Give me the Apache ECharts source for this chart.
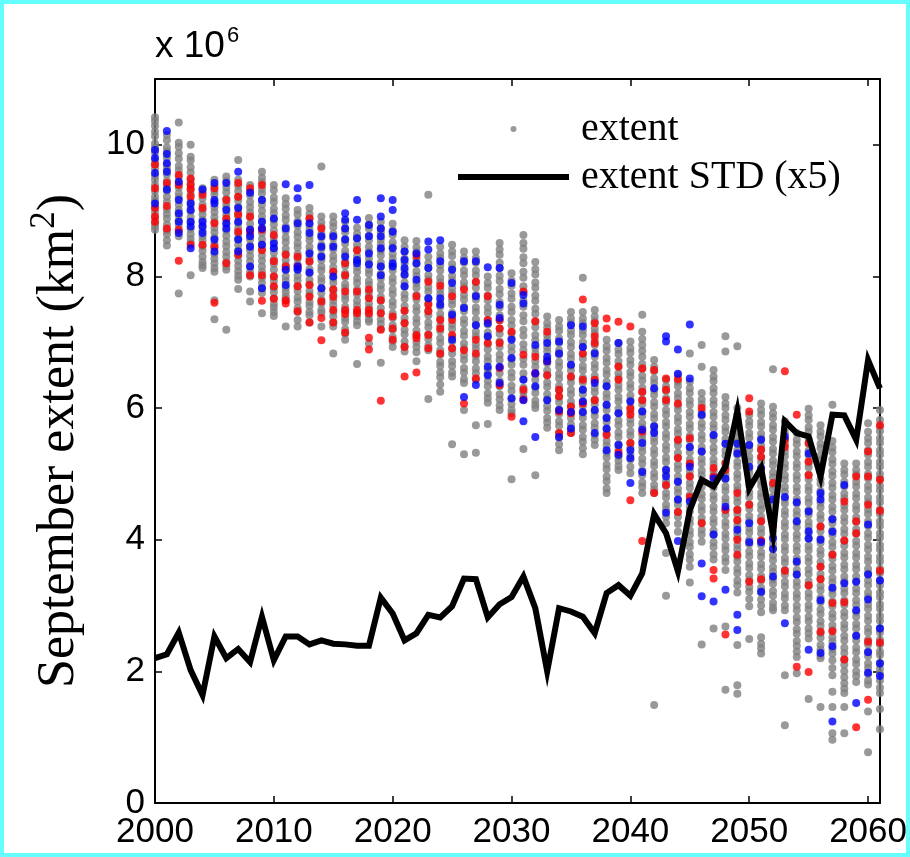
<!DOCTYPE html>
<html>
<head>
<meta charset="utf-8">
<script src="https://cdn.jsdelivr.net/npm/echarts/dist/echarts.min.js"></script>
<style>
  html, body { margin: 0; padding: 0; background: #fff; }
  #wrap { position: relative; width: 910px; height: 857px; }
  #chart { position: absolute; left: 0; top: 0; width: 910px; height: 857px; }
  #frame { position: absolute; left: 0; top: 0; width: 910px; height: 857px;
           box-sizing: border-box; border: 4px solid #66ffff; pointer-events: none; }
</style>
</head>
<body>
<div id="wrap"><div id="chart"></div><div id="frame"></div></div>
<script>
// Model years (one column of ensemble members per year)
const years = [];
for (let y = 2000; y <= 2061; y++) years.push(y);

// September sea-ice extent of the ensemble members, 10^6 km^2 (grey members)
const greyExtent = [
  [10.42,10.36,10.29,10.2,10.13,10.02,9.96,9.88,9.77,9.7,9.64,9.53,9.47,9.39,9.3,9.21,9.15,9.06,8.98,8.9,8.81,8.76,8.71],
  [10.15,10.07,9.96,9.9,9.8,9.69,9.63,9.55,9.45,9.37,9.3,9.21,9.13,9.02,8.95,8.88,8.79,8.7,8.64,8.55,8.47],
  [10.34,10.03,9.97,9.87,9.79,9.68,9.61,9.51,9.42,9.35,9.26,9.2,9.09,9.01,8.93,8.85,8.78,8.69,8.61,7.74],
  [10.0,9.82,9.76,9.66,9.58,9.47,9.41,9.33,9.25,9.14,9.07,8.99,8.9,8.82,8.72,8.64,8.57,8.51,8.02],
  [9.34,9.28,9.19,9.09,9.01,8.94,8.86,8.77,8.7,8.61,8.55,8.46,8.39,8.3,8.22,8.17,8.13],
  [9.47,9.38,9.3,9.24,9.14,9.05,8.98,8.9,8.83,8.74,8.67,8.59,8.5,8.44,8.34,8.27,8.2,8.13,8.07,7.64,7.35],
  [9.52,9.45,9.35,9.28,9.18,9.1,9.04,8.94,8.86,8.79,8.7,8.62,8.53,8.46,8.37,8.3,8.22,8.15,8.1,7.19],
  [9.77,9.47,9.38,9.3,9.21,9.15,9.06,8.97,8.91,8.81,8.73,8.65,8.57,8.48,8.4,8.32,8.24,8.16,8.08,8.01,7.95,7.81],
  [9.39,9.3,9.23,9.13,9.05,8.97,8.9,8.8,8.72,8.64,8.56,8.47,8.4,8.31,8.23,8.15,8.07,8.0,7.77,7.62],
  [9.59,9.5,9.43,9.33,9.26,9.16,9.09,9.0,8.91,8.84,8.74,8.66,8.57,8.49,8.42,8.32,8.24,8.15,8.07,7.98,7.9,7.82,7.75,7.44],
  [9.39,9.31,9.2,9.13,9.03,8.96,8.86,8.79,8.7,8.6,8.53,8.43,8.36,8.26,8.19,8.1,8.0,7.93,7.83,7.76,7.67,7.58,7.53,7.46,7.4],
  [9.19,9.1,9.03,8.93,8.86,8.76,8.69,8.59,8.52,8.42,8.35,8.25,8.17,8.1,8.0,7.93,7.83,7.76,7.69,7.64,7.24],
  [9.01,8.94,8.84,8.77,8.67,8.6,8.51,8.44,8.34,8.27,8.18,8.11,8.01,7.94,7.85,7.78,7.68,7.62,7.52,7.46,7.34,7.24],
  [9.04,8.95,8.88,8.78,8.71,8.61,8.55,8.45,8.38,8.28,8.22,8.11,8.05,7.95,7.88,7.78,7.72,7.61,7.55,7.46,7.41,7.3],
  [9.67,8.91,8.82,8.75,8.65,8.59,8.48,8.42,8.32,8.25,8.15,8.09,7.98,7.92,7.82,7.75,7.65,7.59,7.49,7.45,7.24],
  [8.91,8.82,8.75,8.65,8.58,8.48,8.41,8.31,8.24,8.14,8.07,7.97,7.9,7.8,7.73,7.63,7.56,7.46,7.39,7.3,7.24,6.83],
  [8.83,8.73,8.67,8.56,8.5,8.39,8.33,8.22,8.16,8.05,7.99,7.88,7.82,7.71,7.65,7.54,7.48,7.37,7.31,7.2,7.13,7.04],
  [8.74,8.65,8.58,8.48,8.41,8.31,8.24,8.14,8.07,7.97,7.9,7.8,7.73,7.63,7.56,7.46,7.39,7.32,7.26,6.67],
  [8.89,8.79,8.73,8.62,8.55,8.45,8.38,8.28,8.21,8.1,8.04,7.93,7.87,7.76,7.69,7.59,7.52,7.42,7.35,7.31,6.98],
  [8.83,8.73,8.67,8.56,8.49,8.39,8.32,8.21,8.15,8.04,7.97,7.87,7.8,7.69,7.63,7.52,7.45,7.35,7.28,7.2,6.69],
  [8.8,8.7,8.63,8.52,8.45,8.34,8.27,8.16,8.09,7.98,7.91,7.8,7.73,7.62,7.55,7.44,7.37,7.26,7.19,7.08,7.01,6.93],
  [8.55,8.45,8.38,8.27,8.2,8.09,8.02,7.91,7.84,7.73,7.66,7.55,7.48,7.37,7.3,7.19,7.12,7.01,6.94,6.86],
  [8.54,8.44,8.37,8.26,8.19,8.08,8.01,7.9,7.83,7.72,7.65,7.54,7.47,7.36,7.29,7.18,7.11,7.0,6.93,6.85,6.71],
  [9.24,8.3,8.2,8.13,8.02,7.95,7.84,7.77,7.66,7.59,7.48,7.41,7.3,7.23,7.12,7.05,6.95,6.88,6.14],
  [8.45,8.35,8.28,8.17,8.09,7.98,7.91,7.8,7.73,7.61,7.54,7.43,7.36,7.25,7.17,7.06,6.99,6.88,6.81,6.7,6.64,6.54,6.47,6.36,6.25],
  [8.48,8.38,8.31,8.19,8.12,8.01,7.94,7.82,7.75,7.64,7.57,7.45,7.38,7.27,7.2,7.08,7.01,6.9,6.83,6.71,6.64,6.54,6.48,5.45],
  [8.38,8.28,8.21,8.09,8.02,7.91,7.84,7.72,7.65,7.54,7.47,7.35,7.28,7.17,7.1,6.98,6.91,6.8,6.73,6.61,6.54,6.44,6.38,5.97,5.3],
  [8.38,8.28,8.21,8.09,8.02,7.91,7.83,7.72,7.65,7.53,7.46,7.35,7.27,7.16,7.09,6.97,6.9,6.79,6.71,6.6,6.53,6.43,5.74,5.32],
  [8.0,7.9,7.83,7.71,7.64,7.53,7.45,7.34,7.27,7.15,7.08,6.97,6.89,6.78,6.71,6.59,6.52,6.41,6.33,6.22,6.15,6.08,5.76],
  [8.51,8.41,8.33,8.21,8.13,8.01,7.93,7.81,7.73,7.61,7.53,7.41,7.33,7.21,7.13,7.01,6.93,6.81,6.73,6.61,6.53,6.41,6.33,6.21,6.13,6.04,5.97],
  [8.05,7.94,7.86,7.74,7.66,7.54,7.46,7.34,7.26,7.14,7.06,6.94,6.86,6.74,6.66,6.54,6.46,6.34,6.26,6.14,6.06,5.97,5.92,4.92],
  [8.63,8.51,8.42,8.29,8.2,8.07,7.98,7.85,7.76,7.63,7.54,7.41,7.32,7.19,7.1,6.97,6.88,6.75,6.66,6.53,6.44,6.31,6.24,6.17,5.38],
  [8.22,8.11,8.03,7.91,7.83,7.71,7.63,7.51,7.43,7.31,7.23,7.11,7.03,6.91,6.83,6.71,6.63,6.51,6.43,6.31,6.23,6.11,6.05,6.0,4.98],
  [7.39,7.29,7.22,7.11,7.04,6.93,6.86,6.75,6.68,6.57,6.5,6.39,6.32,6.21,6.14,6.03,5.96,5.85,5.78,5.7],
  [7.34,7.24,7.17,7.06,6.99,6.88,6.81,6.7,6.63,6.52,6.45,6.34,6.27,6.16,6.09,5.98,5.91,5.8,5.73,5.62,5.55,5.45,5.36],
  [7.46,7.36,7.29,7.18,7.11,7.0,6.93,6.82,6.75,6.64,6.57,6.46,6.39,6.28,6.21,6.1,6.03,5.92,5.85,5.75,5.68,5.62],
  [7.98,7.46,7.36,7.29,7.18,7.11,7.0,6.93,6.82,6.75,6.64,6.57,6.46,6.39,6.28,6.21,6.1,6.03,5.92,5.85,5.74,5.67,5.56,5.49,5.39,5.3],
  [7.49,7.39,7.32,7.21,7.14,7.03,6.96,6.85,6.78,6.67,6.6,6.49,6.42,6.31,6.24,6.13,6.06,5.95,5.88,5.77,5.7,5.59,5.52,5.44],
  [7.04,6.94,6.87,6.76,6.69,6.58,6.51,6.4,6.33,6.22,6.15,6.04,5.97,5.86,5.79,5.68,5.61,5.5,5.43,5.32,5.25,5.14,5.07,4.96,4.89,4.78,4.71],
  [6.99,6.89,6.82,6.71,6.64,6.53,6.46,6.35,6.28,6.17,6.1,5.99,5.92,5.81,5.74,5.63,5.56,5.45,5.38,5.27,5.2,5.12,5.06],
  [7.01,6.91,6.84,6.73,6.66,6.55,6.48,6.37,6.3,6.19,6.12,6.01,5.94,5.83,5.76,5.65,5.58,5.47,5.4,5.29,5.22,5.11,5.01],
  [7.42,7.16,7.05,6.96,6.87,6.78,6.67,6.6,6.49,6.42,6.31,6.24,6.13,6.06,5.95,5.88,5.77,5.7,5.59,5.52,5.41,5.34,5.23,5.16,5.05,4.98,4.87,4.8,4.71],
  [6.73,6.63,6.56,6.45,6.38,6.27,6.2,6.09,6.02,5.91,5.84,5.73,5.66,5.55,5.48,5.37,5.3,5.19,5.12,5.01,4.94,4.83,4.76,4.71,1.49],
  [6.43,6.33,6.26,6.15,6.08,5.97,5.9,5.79,5.72,5.61,5.54,5.43,5.36,5.25,5.18,5.07,5.0,4.89,4.82,4.71,4.64,4.53,4.46,4.35,4.25,3.8,3.15],
  [6.5,6.4,6.33,6.22,6.15,6.04,5.97,5.86,5.79,5.68,5.61,5.5,5.43,5.32,5.25,5.14,5.07,4.96,4.89,4.78,4.71,4.6,4.53,4.42,4.35,4.24,4.12,3.59],
  [6.83,6.4,6.3,6.23,6.12,6.05,5.94,5.87,5.76,5.69,5.58,5.51,5.4,5.33,5.22,5.15,5.04,4.97,4.86,4.79,4.68,4.61,4.5,4.43,4.32,4.25,4.14,4.07,3.96,3.89,3.78,3.7,3.59,3.35],
  [6.96,6.63,6.23,6.13,6.06,5.95,5.88,5.77,5.7,5.59,5.52,5.41,5.34,5.23,5.16,5.05,4.98,4.87,4.8,4.69,4.62,4.51,4.44,4.33,4.26,4.15,4.08,3.97,2.41],
  [6.58,6.48,6.41,6.3,6.23,6.12,6.05,5.94,5.87,5.76,5.69,5.58,5.51,5.4,5.33,5.22,5.15,5.04,4.97,4.86,4.79,4.68,4.61,4.5,4.43,4.32,4.25,4.14,4.07,3.96,3.89,3.78,3.7,2.65],
  [7.09,6.86,6.17,6.07,6.0,5.89,5.82,5.71,5.64,5.53,5.46,5.35,5.28,5.17,5.1,4.99,4.92,4.81,4.74,4.63,4.56,4.45,4.38,4.27,4.2,4.09,4.02,3.91,3.84,3.73,3.66,3.54,2.68,1.72],
  [6.94,6.0,5.9,5.83,5.72,5.65,5.54,5.47,5.36,5.29,5.18,5.11,5.0,4.93,4.82,4.75,4.64,4.57,4.46,4.39,4.28,4.21,4.1,4.03,3.92,3.85,3.74,3.67,3.56,3.49,3.38,3.31,3.2,2.4,1.79,1.66],
  [5.9,5.8,5.73,5.62,5.55,5.44,5.37,5.26,5.19,5.08,5.01,4.9,4.83,4.72,4.65,4.54,4.47,4.36,4.29,4.18,4.11,4.0,3.93,3.82,3.75,3.64,3.57,3.46,3.39,3.28,3.21,3.1,2.99,2.49],
  [6.07,5.97,5.9,5.79,5.72,5.61,5.54,5.43,5.36,5.25,5.18,5.07,5.0,4.89,4.82,4.71,4.64,4.53,4.46,4.35,4.28,4.17,4.1,3.99,3.92,3.81,3.74,3.63,3.56,3.45,3.38,3.27,3.2,3.09,3.0,2.9,2.52,2.42,2.35,2.27],
  [6.59,6.02,5.92,5.85,5.74,5.67,5.56,5.49,5.38,5.31,5.2,5.13,5.02,4.95,4.84,4.77,4.66,4.59,4.48,4.41,4.3,4.23,4.12,4.05,3.94,3.87,3.76,3.69,3.58,3.51,3.4,3.33,3.22,3.15,3.04,2.97,2.93],
  [5.8,5.7,5.63,5.52,5.45,5.34,5.27,5.16,5.09,4.98,4.91,4.8,4.73,4.62,4.55,4.44,4.37,4.26,4.19,4.08,4.01,3.9,3.83,3.72,3.65,3.54,3.47,3.36,3.29,3.18,3.11,3.0,2.93,1.94,1.18],
  [5.62,5.52,5.45,5.34,5.27,5.16,5.09,4.98,4.91,4.8,4.73,4.62,4.55,4.44,4.37,4.26,4.19,4.08,4.01,3.9,3.83,3.72,3.65,3.54,3.47,3.36,3.29,3.18,3.11,3.0,2.93,2.82,2.75,2.64,2.57,2.46,2.39,2.3,2.22,1.97],
  [5.99,5.89,5.82,5.71,5.64,5.53,5.46,5.35,5.28,5.17,5.1,4.99,4.92,4.81,4.74,4.63,4.56,4.45,4.38,4.27,4.2,4.09,4.02,3.91,3.84,3.73,3.66,3.55,3.48,3.37,3.3,3.19,3.12,3.01,2.94,2.83,2.76,2.65,2.58,2.5,1.58],
  [5.74,5.64,5.57,5.46,5.39,5.28,5.21,5.1,5.03,4.92,4.85,4.74,4.67,4.56,4.49,4.38,4.31,4.2,4.13,4.02,3.95,3.84,3.77,3.66,3.59,3.48,3.41,3.3,3.23,3.12,3.05,2.94,2.87,2.76,2.69,2.58,2.51,2.4,2.33,2.24,2.2,1.46],
  [6.05,5.5,5.4,5.33,5.22,5.15,5.04,4.97,4.86,4.79,4.68,4.61,4.5,4.43,4.32,4.25,4.14,4.07,3.96,3.89,3.78,3.71,3.6,3.53,3.42,3.35,3.24,3.17,3.06,2.99,2.88,2.81,2.7,2.63,2.52,2.45,2.34,2.27,2.17,2.05,1.94,1.69,1.46,1.06,0.96],
  [5.16,5.06,4.99,4.88,4.81,4.7,4.63,4.52,4.45,4.34,4.27,4.16,4.09,3.98,3.91,3.8,3.73,3.62,3.55,3.44,3.37,3.26,3.19,3.08,3.01,2.9,2.83,2.72,2.65,2.54,2.47,2.36,2.28,2.18,2.1,2.0,1.91,1.82,1.74,1.67,1.46,1.06],
  [5.16,5.06,4.99,4.88,4.81,4.7,4.63,4.52,4.45,4.34,4.27,4.16,4.09,3.98,3.91,3.8,3.73,3.62,3.55,3.44,3.37,3.26,3.19,3.08,3.01,2.9,2.83,2.72,2.65,2.54,2.47,2.36,2.29,2.18,2.11,2.0,1.93,1.84],
  [5.77,5.64,5.54,5.47,5.36,5.29,5.18,5.11,5.0,4.93,4.82,4.75,4.64,4.57,4.46,4.39,4.28,4.21,4.1,4.03,3.92,3.85,3.74,3.67,3.56,3.49,3.38,3.31,3.2,3.13,3.02,2.95,2.84,2.77,2.66,2.59,2.48,2.41,2.3,2.23,2.12,2.05,1.96,1.86,1.8,1.39,0.77],
  [5.97,5.82,5.72,5.65,5.54,5.47,5.36,5.29,5.18,5.11,5.0,4.93,4.82,4.75,4.64,4.57,4.46,4.39,4.28,4.21,4.1,4.03,3.92,3.85,3.74,3.67,3.56,3.49,3.38,3.31,3.2,3.13,3.02,2.95,2.84,2.77,2.66,2.59,2.48,2.41,2.3,2.25,2.13,2.04,1.96,1.86,1.75,1.67,1.43,1.12]
];

// Highlighted members drawn in blue
const blueExtent = [
  [9.92,9.8,9.57,9.11],[10.21,9.86,9.72,9.59,9.32],[9.44,9.16,8.96,8.83,8.66],[9.11,9.01,8.83,8.76,8.43],
  [9.32,8.83,8.76,8.66],[9.42,9.16,9.11,8.56,8.38],[9.42,9.01,8.81,8.73],[9.59,9.04,8.83,8.56,8.38],
  [9.27,8.71,8.61,8.45,8.15],[9.16,8.83,8.73,8.48,7.82],[8.88,8.5,8.43],[9.4,8.73,8.1,7.87],
  [9.34,9.19,8.81,8.15,8.1],[9.39,8.81,8.66,8.35,8.06],[8.61,8.45,8.3,7.82],[8.61,8.45,8.0],
  [8.96,8.86,8.73,8.56,8.3],[9.16,8.86,8.58,8.25,8.2],[8.78,8.61,8.35,8.18],[9.19,8.91,8.73,8.61,8.43,8.15,8.02],
  [9.16,9.01,8.68,8.43,8.2,8.15],[8.38,8.25,8.13,8.03,7.85],[8.35,8.2,7.95],[8.53,8.41,8.13,7.67],
  [8.55,8.23,7.67,7.57],[8.1,7.9,7.42,7.04],[8.23,7.52,6.17],[8.23,7.7,7.26,6.35],
  [8.14,7.29,7.09,6.63,6.5],[8.13,7.57,7.37,6.63,6.38],[7.9,7.04,6.76,6.15],[7.72,7.59,6.43,6.12,5.8],
  [6.96,6.53,6.33,5.56],[6.99,6.78,6.71,6.12],[7.01,6.83,5.97,5.56],[7.26,6.66,5.94,5.69],
  [7.24,6.93,6.28,6.1,5.94],[6.83,6.38,5.97,5.62],[6.33,6.05,5.85,5.69,5.36],[6.99,5.92,5.44,5.29],
  [6.1,5.36,5.24,4.86],[5.95,5.67,5.47,5.03],[6.3,5.72,5.62],[7.09,7.01,5.06,4.96,4.41],
  [6.89,6.52,4.88,4.61,3.98],[7.27,6.45,5.41,5.11,4.58],[5.9,5.34,3.64,3.14],[5.59,4.93,4.08,3.06],
  [5.46,4.93,4.5,3.24],[5.46,5.31,4.15,2.86,2.63],[5.44,5.11,4.25,3.96],[5.52,5.09,3.96,3.21],
  [4.61,4.02,3.86,3.44],[5.57,4.65,2.73],[4.57,4.28,3.67,3.47],[5.31,4.43,4.13,4.02,2.33],
  [4.71,4.61,4.0,3.08,2.28],[4.31,4.12,3.27,2.38,1.24],[4.83,3.34],[3.36,2.93,2.54,1.52],
  [4.23,3.47,3.09,2.29,1.98],[3.38,2.65,2.12,1.93]
];

// Highlighted members drawn in red
const redExtent = [
  [9.7,9.34,9.04,8.91,8.83],[9.42,9.07,8.73],[9.54,9.39,8.71,8.24],[9.49,9.39,9.32,9.21,8.48],
  [9.24,9.04,8.48],[9.34,8.81,8.45,7.6],[9.16,8.88,8.2],[9.42,9.21,8.94,8.68,8.33],
  [9.34,8.91,8.68,8.02],[9.39,8.71,8.4,8.02,7.63],[8.63,8.23,8.0,7.85,7.66],[8.33,8.15,7.64,7.59],
  [8.3,8.15,7.85,7.47],[8.88,8.23,7.87,7.69,7.3],[8.73,7.62,7.37,7.03],[8.07,7.8,7.69,7.49,7.3],
  [8.2,8.02,7.77,7.49,7.43,7.15],[8.4,7.77,7.49,7.44],[7.8,7.67,7.49,7.44,7.07,6.89],[7.64,7.44,7.19,6.11],
  [7.39,7.21,7.04],[7.48,7.29,6.93,6.48],[8.31,7.7,7.11,7.06,6.54],[7.92,7.57,7.47,7.11,6.91],
  [7.86,7.34,7.21,6.83],[7.7,7.34,7.11,6.91],[7.8,6.88,6.07],[7.92,7.04,6.83,6.45],
  [7.7,7.34,6.99],[7.34,7.21,6.99,6.61,6.35],[7.16,5.87],[7.77,6.81,6.28,6.13],
  [7.32,6.78,6.53],[7.16,6.71,6.5],[6.28,6.18,5.95,5.62],[6.48,6.02,5.92,5.62],
  [7.65,6.83,6.43,6.07],[7.29,7.09,6.99,6.43,6.12],[7.36,7.21,5.59],[7.31,6.63,6.43,5.33],
  [7.24,5.99,5.9,5.47,4.6],[6.6,6.25,6.12,5.64,3.98],[6.58,4.71],[6.45,6.28,6.12,4.83],
  [6.44,6.07,5.52,5.24,4.42],[5.54,5.16,4.96,4.65],[6.0,4.25],[5.09,4.96,3.54,3.41],
  [5.16,5.06,4.45,2.56],[4.71,4.45,4.3,4.0,3.77],[6.15,5.95,4.53,3.36],[5.37,5.26,4.28,3.99,3.4],
  [4.86,4.2],[6.56,5.52,5.41,3.53],[5.9,2.07],[5.47,5.19,4.98,3.31,1.99],
  [4.2,3.59,3.4,2.6],[3.77,3.04,2.61],[4.58,3.99,3.05,2.18],[4.96,4.28,4.1,1.15],
  [5.34,4.96,4.53,2.45,1.57],[5.74,4.91,4.44,3.53,2.44]
];

// Ensemble standard deviation of extent, scaled by 5
const stdX5 = [
  2.20,2.26,2.59,2.02,1.64,2.53,2.20,2.34,2.14,2.83,
  2.17,2.53,2.53,2.41,2.47,2.42,2.41,2.39,2.39,3.12,
  2.88,2.47,2.58,2.86,2.82,2.99,3.41,3.40,2.82,3.02,
  3.13,3.44,2.96,2.00,2.96,2.91,2.83,2.58,3.19,3.31,
  3.15,3.49,4.39,4.10,3.52,4.45,4.91,4.81,5.11,5.95,
  4.78,5.09,4.10,5.80,5.62,5.57,4.96,5.90,5.89,5.52,
  6.73,6.30
];

// Axis ticks
const xTicks = { min: 2000, max: 2061, step: 10 };
const yTicks = { min: 0, max: 11, step: 2 };

function columns(lists) {
  const pts = [];
  years.forEach((yr, i) => lists[i].forEach(v => pts.push([yr, v])));
  return pts;
}

const SANS = '"Liberation Sans", Arial, Helvetica, sans-serif';
const SERIF = '"Liberation Serif", "Times New Roman", Times, serif';
const DOT = 8;

const axisLine = { show: true, onZero: false, lineStyle: { color: '#000', width: 2 } };
const axisTick = { show: true, inside: true, length: 7, lineStyle: { color: '#000', width: 1.5 } };

const chart = echarts.init(document.getElementById('chart'), null, { renderer: 'canvas' });

chart.setOption({
  animation: false,
  backgroundColor: '#ffffff',
  grid: { left: 155, top: 79, right: 30, bottom: 54, containLabel: false },
  xAxis: [
    {
      type: 'value', position: 'bottom', min: xTicks.min, max: xTicks.max, interval: xTicks.step,
      axisLine, axisTick, splitLine: { show: false },
      axisLabel: {
        color: '#000', fontFamily: SANS, fontSize: 35, margin: 12, showMaxLabel: false,
        formatter: v => (v % 10 === 0 ? String(v) : '')
      }
    },
    {
      type: 'value', position: 'top', min: xTicks.min, max: xTicks.max, interval: xTicks.step,
      axisLine, axisTick, splitLine: { show: false }, axisLabel: { show: false }
    }
  ],
  yAxis: [
    {
      type: 'value', position: 'left', min: yTicks.min, max: yTicks.max, interval: yTicks.step,
      axisLine, axisTick, splitLine: { show: false },
      axisLabel: {
        color: '#000', fontFamily: SANS, fontSize: 35, margin: 10, showMaxLabel: false,
        formatter: v => (v % 2 === 0 ? String(v) : '')
      },
      name: '{t|September extent (km}{s|2}{t|)}',
      nameLocation: 'middle', nameRotate: 90, nameGap: 64,
      nameTextStyle: {
        color: '#000', fontFamily: SERIF, fontSize: 52,
        rich: {
          t: { color: '#000', fontFamily: SERIF, fontSize: 52, lineHeight: 64 },
          s: { color: '#000', fontFamily: SERIF, fontSize: 35, lineHeight: 35, verticalAlign: 'top' }
        }
      }
    },
    {
      type: 'value', position: 'right', min: yTicks.min, max: yTicks.max, interval: yTicks.step,
      axisLine, axisTick, splitLine: { show: false }, axisLabel: { show: false }
    }
  ],
  legend: {
    orient: 'vertical', left: 453, top: 104, itemWidth: 111, itemHeight: 6, itemGap: 8,
    selectedMode: false,
    data: [
      { name: 'extent', icon: 'circle', itemStyle: { color: '#808080' } },
      { name: 'extent STD (x5)', icon: 'rect', itemStyle: { color: '#000' } }
    ],
    textStyle: { color: '#000', fontFamily: SERIF, fontSize: 40, lineHeight: 40, padding: [0, 0, 0, 7] }
  },
  graphic: [
    { type: 'text', left: 155, top: 28, style: { text: 'x 10', fill: '#000', font: '37px ' + SANS } },
    { type: 'text', left: 227, top: 25, style: { text: '6', fill: '#000', font: '22px ' + SANS } }
  ],
  series: [
    {
      name: 'extent', type: 'scatter', data: columns(greyExtent),
      symbol: 'circle', symbolSize: DOT, itemStyle: { color: '#808080' },
      progressive: 0, silent: true, z: 2
    },
    {
      name: 'extent (red members)', type: 'scatter', data: columns(redExtent),
      symbol: 'circle', symbolSize: DOT, itemStyle: { color: '#ff0000' },
      progressive: 0, silent: true, z: 3
    },
    {
      name: 'extent (blue members)', type: 'scatter', data: columns(blueExtent),
      symbol: 'circle', symbolSize: DOT, itemStyle: { color: '#0000ff' },
      progressive: 0, silent: true, z: 4
    },
    {
      name: 'extent STD (x5)', type: 'line', data: years.map((yr, i) => [yr, stdX5[i]]),
      symbol: 'none', showSymbol: false, silent: true, z: 5,
      lineStyle: { color: '#000', width: 6, join: 'miter' }
    }
  ]
});
</script>
</body>
</html>
